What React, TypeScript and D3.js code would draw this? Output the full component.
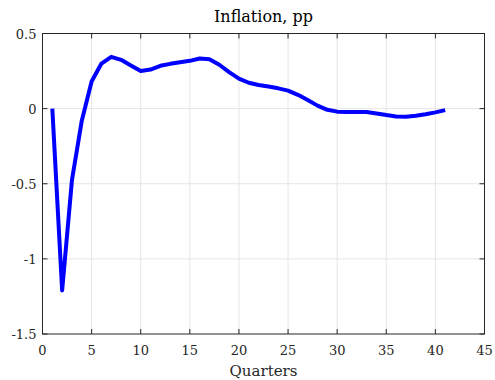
import React from 'react';
import * as d3 from 'd3';

// impulse response, quarters 1..41
const quarters = d3.range(1, 42);
const inflation = [
  0.0, -1.21, -0.475, -0.08, 0.18, 0.3, 0.345, 0.325, 0.287, 0.25,
  0.26, 0.285, 0.298, 0.308, 0.318, 0.334, 0.328, 0.292, 0.243, 0.2,
  0.172, 0.157, 0.147, 0.135, 0.12, 0.092, 0.057, 0.02, -0.008, -0.02,
  -0.022, -0.022, -0.023, -0.032, -0.043, -0.052, -0.054, -0.048, -0.038, -0.025,
  -0.01,
];
const xTicks = [0, 5, 10, 15, 20, 25, 30, 35, 40, 45];
const yTicks = [-1.5, -1, -0.5, 0, 0.5];

const W = 495;
const H = 380;
const margin = { top: 33.5, right: 10.5, bottom: 46, left: 42.5 };
const font = "'DejaVu Serif', serif";
const axisColor = '#262626';

const App = () => {
  const x = d3.scaleLinear().domain([0, 45]).range([margin.left, W - margin.right]);
  const y = d3.scaleLinear().domain([-1.5, 0.5]).range([H - margin.bottom, margin.top]);

  const line = d3.line<number>()
    .x((_, i) => x(quarters[i]))
    .y((d) => y(d));

  const x0 = x.range()[0], x1 = x.range()[1];
  const y0 = y.range()[0], y1 = y.range()[1];
  const tl = 5;

  return (
    <div style={{ position: 'absolute', left: 0, top: 0 }}>
      <svg width={W} height={H} style={{ display: 'block', background: '#fff', fontFamily: font }}>
        {/* grid */}
        <g stroke="#e5e5e5" strokeWidth={1}>
          {xTicks.slice(1, -1).map((t) => (
            <line key={'gx' + t} x1={x(t)} x2={x(t)} y1={y1} y2={y0} />
          ))}
          {yTicks.slice(1, -1).map((t) => (
            <line key={'gy' + t} x1={x0} x2={x1} y1={y(t)} y2={y(t)} />
          ))}
        </g>

        {/* series */}
        <path d={line(inflation) || ''} fill="none" stroke="#0000ff" strokeWidth={4}
          strokeLinejoin="round" />

        {/* box + ticks */}
        <rect x={x0} y={y1} width={x1 - x0} height={y0 - y1} fill="none" stroke={axisColor} strokeWidth={1} />
        <g stroke={axisColor} strokeWidth={1}>
          {xTicks.map((t) => (
            <g key={'tx' + t}>
              <line x1={x(t)} x2={x(t)} y1={y0} y2={y0 - tl} />
              <line x1={x(t)} x2={x(t)} y1={y1} y2={y1 + tl} />
            </g>
          ))}
          {yTicks.map((t) => (
            <g key={'ty' + t}>
              <line x1={x0} x2={x0 + tl} y1={y(t)} y2={y(t)} />
              <line x1={x1} x2={x1 - tl} y1={y(t)} y2={y(t)} />
            </g>
          ))}
        </g>

        {/* tick labels */}
        <g style={{ fontFamily: font, fontSize: '13px' }} fill={axisColor}>
          {xTicks.map((t) => (
            <text key={'lx' + t} x={x(t)} y={y0 + 20.5} textAnchor="middle">{t}</text>
          ))}
          {yTicks.map((t) => (
            <text key={'ly' + t} x={x0 - 6} y={y(t) + 5} textAnchor="end">{String(t)}</text>
          ))}
        </g>

        <text x={(x0 + x1) / 2} y={21.5} textAnchor="middle" style={{ fontFamily: font, fontSize: '16px' }} fill="#000">
          Inflation, pp
        </text>
        <text x={(x0 + x1) / 2} y={376} textAnchor="middle" style={{ fontFamily: font, fontSize: '15px' }} fill={axisColor}>
          Quarters
        </text>
      </svg>
    </div>
  );
};

export default App;
